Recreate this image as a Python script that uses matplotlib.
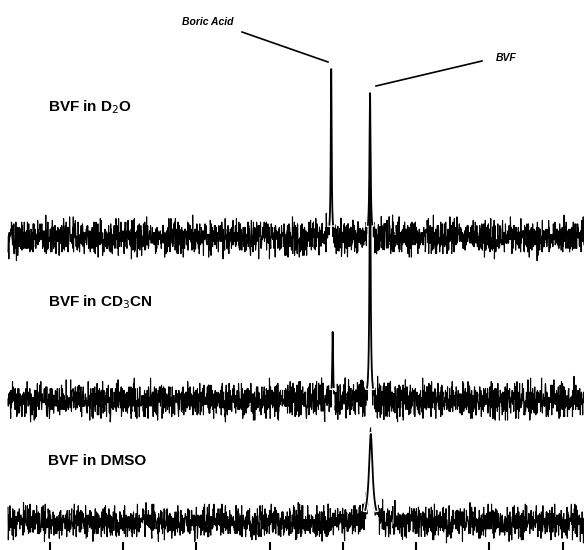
import matplotlib.pyplot as plt
import numpy as np

# 11B spectra of BVF, one trace per solvent
solvents = ["BVF in D$_2$O", "BVF in CD$_3$CN", "BVF in DMSO"]
peak_ppm = [[21.6, 16.3], [21.4, 16.3], [16.2]]
peak_height = [[168, 144], [68, 250], [88]]
peak_hwhm = [[0.07, 0.09], [0.07, 0.09], [0.3]]
noise_scale = [1.75, 1.75, 1.55]

# baseline noise, one digit per sample
NOISE_DIGITS = (
    "31415926535897932384626433832795028841971693993751"
    "05820974944592307816406286208998628034825342117067"
    "98214808651328230664709384460955058223172535940812"
    "84811174502841027019385211055596446229489549303819"
    "64428810975665933446128475648233786783165271201909"
    "14564856692346034861045432664821339360726024914127"
    "37245870066063155881748815209209628292540917153643"
    "67892590360011330530548820466521384146951941511609"
    "43305727036575959195309218611738193261179310511854"
    "80744623799627495673518857527248912279381830119491"
    "29833673362440656643086021394946395224737190702179"
    "86094370277053921717629317675238467481846766940513"
    "20005681271452635608277857713427577896091736371787"
    "21468440901224953430146549585371050792279689258923"
    "54201995611212902196086403441815981362977477130996"
)

# vertical offset of each trace and label position (figure pixels from bottom)
offsets = [313, 150, 28]
label_y = [443, 248, 89]

N_PTS = 2200


def lorentz(x, centers, heights, hwhms):
    y = np.zeros_like(x)
    for c, h, w in zip(centers, heights, hwhms):
        y += h / (1 + ((x - c) / w) ** 2)
    return y


digits = np.array([int(c) for c in NOISE_DIGITS])

fig = plt.figure(figsize=(5.84, 5.50), dpi=100)
ax = fig.add_axes([0, 0, 1, 1])
ax.set_xlim(66.8, -12.9)
ax.set_ylim(0, 550)

x = np.linspace(65.7, -12.9, N_PTS)
x_fine = np.linspace(65.7, -12.9, 12000)

peak_lines = []
for k, name in enumerate(solvents):
    # digit runs of different length so the sum does not repeat
    a = np.resize(np.roll(digits, -(k * 211)), N_PTS)
    b = np.resize(np.roll(digits[:737], -(k * 173 + 337)), N_PTS)
    c = np.resize(np.roll(digits[:743], -(k * 97 + 520)), N_PTS)
    noise = (a + b + c - 13.5) * noise_scale[k]
    sig = lorentz(x, peak_ppm[k], peak_height[k], peak_hwhm[k])
    ax.plot(x, offsets[k] + noise + sig, color="black", lw=0.8, zorder=2)

    # peaks drawn on a fine grid so the tips are not lost
    sig_fine = lorentz(x_fine, peak_ppm[k], peak_height[k], peak_hwhm[k])
    peak_lines.append(np.ma.masked_where(sig_fine < 12, offsets[k] + sig_fine))

    ax.text(48 / 584, label_y[k] / 550, name, transform=ax.transAxes,
            fontsize=11, fontweight="bold", family="Liberation Sans",
            va="center", ha="left")

# white edge first, then all peak lines on top of it
for line in peak_lines:
    ax.plot(x_fine, line, color="white", lw=3.2, zorder=2.5)
for line in peak_lines:
    ax.plot(x_fine, line, color="black", lw=1.3, zorder=3)

# peak labels
ax.text(233 / 584, 1 - 22 / 550, "Boric Acid", transform=ax.transAxes,
        fontsize=7.5, style="italic", fontweight="bold", family="Liberation Sans",
        ha="right", va="center")
ax.plot([242 / 584, 328 / 584], [1 - 32 / 550, 1 - 62 / 550],
        transform=ax.transAxes, color="black", lw=1.2)
ax.text(496 / 584, 1 - 58 / 550, "BVF", transform=ax.transAxes,
        fontsize=7.5, style="italic", fontweight="bold", family="Liberation Sans",
        ha="left", va="center")
ax.plot([482 / 584, 376 / 584], [1 - 61 / 550, 1 - 86 / 550],
        transform=ax.transAxes, color="black", lw=1.2)

ax.set_xticks(np.arange(60, -11, -10))
ax.tick_params(axis="x", direction="in", length=6, width=1.5, labelbottom=False)
ax.set_yticks([])
for s in ax.spines.values():
    s.set_visible(False)

fig.savefig("out.png", dpi=100)
